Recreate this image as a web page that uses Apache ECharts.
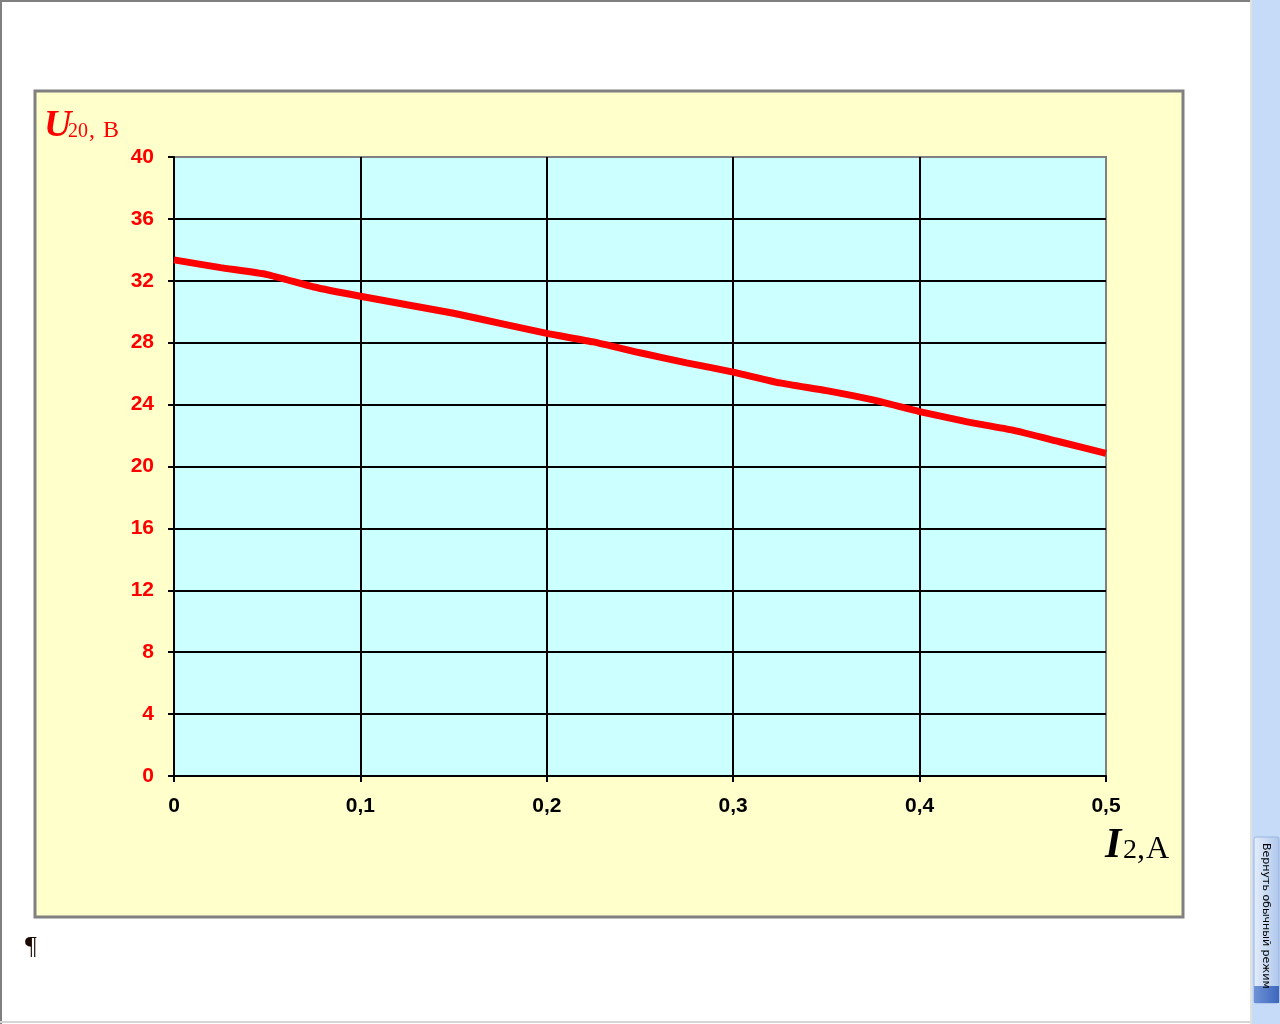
<!DOCTYPE html>
<html>
<head>
<meta charset="utf-8">
<script src="https://cdn.jsdelivr.net/npm/echarts@6/dist/echarts.min.js"></script>
<style>
html,body{margin:0;padding:0;background:#fff;}
#chart{width:1280px;height:1024px;}
</style>
</head>
<body>
<div id="chart"></div>
<script>
// Data
const currentA = [0, 0.025, 0.05, 0.075, 0.1, 0.125, 0.15, 0.175, 0.2, 0.225, 0.25, 0.275, 0.3, 0.325, 0.35, 0.375, 0.4, 0.425, 0.45, 0.475, 0.5];
const voltageV = [33.35, 32.85, 32.4, 31.6, 31.0, 30.45, 29.9, 29.25, 28.6, 28.05, 27.35, 26.7, 26.1, 25.4, 24.9, 24.3, 23.55, 22.9, 22.35, 21.6, 20.85];
const yTicks = {min: 0, max: 40, interval: 4};
const xTicks = {min: 0, max: 0.5, interval: 0.1};

const serif = '"Liberation Serif", "Times New Roman", serif';
const sans = '"Liberation Sans", Arial, sans-serif';

function midY(baseline, size) { return baseline - 0.305 * size; }

const chart = echarts.init(document.getElementById('chart'), null, {renderer: 'canvas'});
const option = {
  backgroundColor: '#ffffff',
  animation: false,
  grid: {
    left: 174, top: 157, width: 932, height: 619,
    show: true, backgroundColor: '#CCFFFF', borderColor: '#808080', borderWidth: 2
  },
  xAxis: {
    type: 'value', min: xTicks.min, max: xTicks.max, interval: xTicks.interval,
    axisLine: {show: true, onZero: false, lineStyle: {color: '#000', width: 2}},
    axisTick: {show: true, inside: false, length: 6, lineStyle: {color: '#000', width: 2}},
    splitLine: {show: true, showMaxLine: false, lineStyle: {color: '#000', width: 2}},
    axisLabel: {
      margin: 20, color: '#000', fontFamily: sans, fontWeight: 'bold', fontSize: 21,
      formatter: v => (Math.abs(v) < 1e-9 ? '0' : v.toFixed(1).replace('.', ','))
    }
  },
  yAxis: {
    type: 'value', min: yTicks.min, max: yTicks.max, interval: yTicks.interval,
    axisLine: {show: true, onZero: false, lineStyle: {color: '#000', width: 2}},
    axisTick: {show: true, inside: false, length: 6, lineStyle: {color: '#000', width: 2}},
    splitLine: {show: true, showMaxLine: false, showMinLine: false, lineStyle: {color: '#000', width: 2}},
    axisLabel: {margin: 20, color: '#FF0000', fontFamily: sans, fontWeight: 'bold', fontSize: 21,
      padding: [3, 0, 0, 0]}
  },
  series: [{
    type: 'line',
    data: currentA.map((x, i) => [x, voltageV[i]]),
    smooth: 0.15,
    symbol: 'none',
    lineStyle: {color: '#FF0000', width: 7},
    z: 5
  }],
  graphic: [
    // page chrome
    {type: 'rect', z: -100, shape: {x: 0, y: 0, width: 1251, height: 2}, style: {fill: '#808080'}},
    {type: 'rect', z: -100, shape: {x: 0, y: 0, width: 2, height: 1024}, style: {fill: '#808080'}},
    {type: 'rect', z: -100, shape: {x: 0, y: 1021, width: 1252, height: 2}, style: {fill: '#D6D6D6'}},
    {type: 'rect', z: -100, shape: {x: 1250, y: 0, width: 2, height: 1024}, style: {fill: '#E0E0E0'}},
    {type: 'rect', z: -100, shape: {x: 1252, y: 0, width: 28, height: 1024}, style: {fill: '#C6DBF8'}},
    {type: 'rect', z: -99, shape: {x: 1254, y: 837, width: 25, height: 166, r: 2},
      style: {fill: new echarts.graphic.LinearGradient(0, 0, 1, 0, [{offset: 0, color: '#E4EEFB'}, {offset: 1, color: '#AFC7EC'}]), stroke: '#9AB4DE', lineWidth: 1}},
    {type: 'rect', z: -98, shape: {x: 1254, y: 986, width: 25, height: 17},
      style: {fill: new echarts.graphic.LinearGradient(0, 0, 1, 0, [{offset: 0, color: '#6F93D6'}, {offset: 1, color: '#3D66BD'}])}},
    {type: 'text', z: -97, x: 1266, y: 843, rotation: -Math.PI / 2,
      style: {text: 'Вернуть обычный режим', fill: '#000', font: '11px "DejaVu Sans", "Liberation Sans", sans-serif', align: 'left', verticalAlign: 'middle'}},
    // chart area background
    {type: 'rect', z: -50, shape: {x: 35, y: 91, width: 1148, height: 826},
      style: {fill: '#FFFFCC', stroke: '#808080', lineWidth: 3}},
    // y-axis name U20, B
    {type: 'text', x: 44, y: midY(138, 38), style: {text: 'U', fill: '#FF0000', font: 'italic bold 38px ' + serif, verticalAlign: 'middle'}},
    {type: 'text', x: 68, y: midY(138, 20), style: {text: '20', fill: '#FF0000', font: '20px ' + serif, verticalAlign: 'middle'}},
    {type: 'text', x: 89, y: midY(138, 24), style: {text: ',', fill: '#FF0000', font: '24px ' + serif, verticalAlign: 'middle'}},
    {type: 'text', x: 103, y: midY(138, 24), style: {text: 'В', fill: '#FF0000', font: '24px ' + serif, verticalAlign: 'middle'}},
    // x-axis name I2, A
    {type: 'text', x: 1105, y: midY(859, 42), style: {text: 'I', fill: '#000', font: 'italic bold 42px ' + serif, verticalAlign: 'middle'}},
    {type: 'text', x: 1123, y: midY(859, 28), style: {text: '2', fill: '#000', font: '28px ' + serif, verticalAlign: 'middle'}},
    {type: 'text', x: 1137, y: midY(859, 32), style: {text: ',', fill: '#000', font: '32px ' + serif, verticalAlign: 'middle'}},
    {type: 'text', x: 1146, y: midY(859, 32), style: {text: 'А', fill: '#000', font: '32px ' + serif, verticalAlign: 'middle'}},
    // pilcrow
    {type: 'text', x: 25, y: midY(955, 26), style: {text: '¶', fill: '#1a0a00', font: '26px ' + serif, verticalAlign: 'middle'}}
  ]
};
chart.setOption(option);
</script>
</body>
</html>
